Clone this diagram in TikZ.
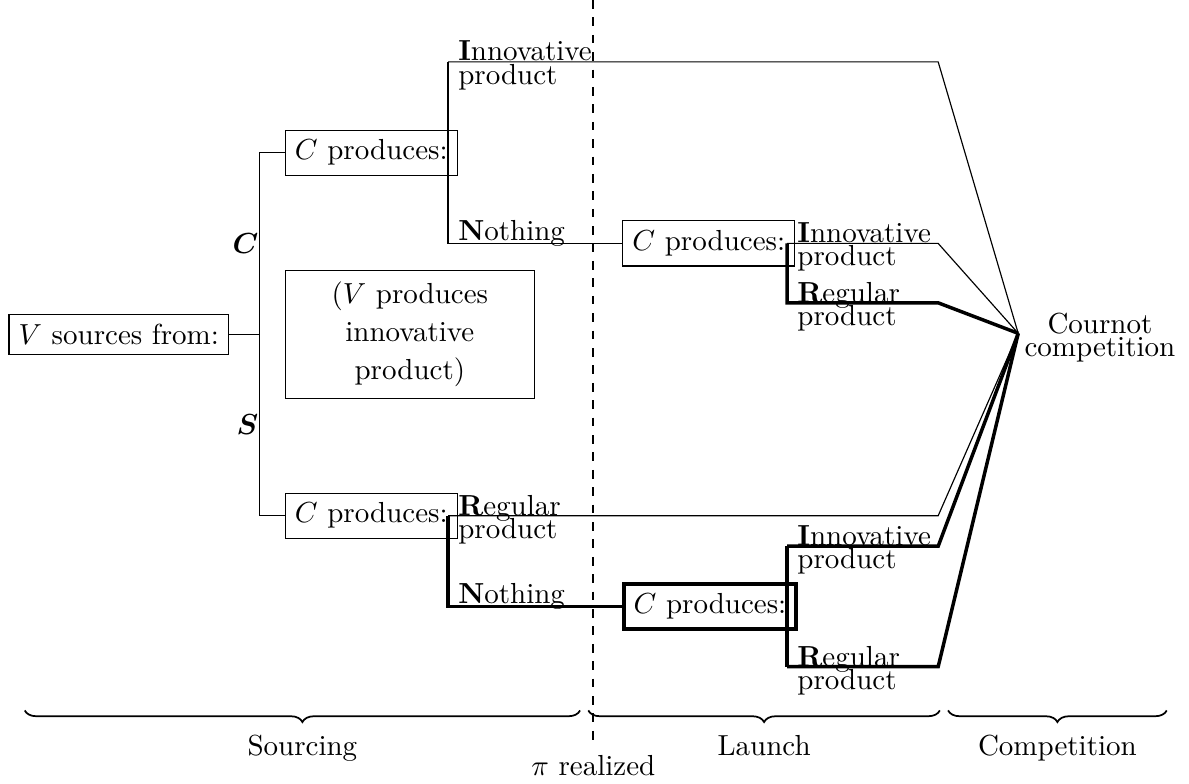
\documentclass[tikz,border=0pt]{standalone}
\usepackage{amsmath}
\usepackage{amssymb}
\usepackage{tikz}
\usetikzlibrary{calc}
\usetikzlibrary{positioning}
\usetikzlibrary{decorations.pathreplacing}

\begin{document}
\begin{tikzpicture}[box/.style={rectangle, draw=black},
                    lbl/.style={anchor=north west, align=left, yshift=10.7pt},
                    chosen/.style={very thick},
                    phase/.style={decorate, decoration={brace, mirror, amplitude=4pt}, semithick}]
            \useasboundingbox (0, 0) rectangle (14.41, -9.50);
            % sourcing stage
            \node[box] (V) at (1.44, -4.05) {$V$ sources from:};
            \coordinate (J) at (3.15, -4.05);
            \node[box, anchor=west] (C1) at (3.45, -1.85) {$C$ produces:};
            \node[box, anchor=west, align=center, minimum width=3.02cm, minimum height=1.55cm] (Vp) at (3.45, -4.05) {($V$ produces\\[1.2pt]innovative\\[1.2pt]product)};
            \node[box, anchor=west] (C2) at (3.45, -6.25) {$C$ produces:};
            \draw (V.east) -- (J);
            \draw (C1.west) -| (J) |- (C2.west);
            \path (J) -- (J |- C1) node[midway, left, xshift=3pt] {$\boldsymbol{C}$};
            \path (J) -- (J |- C2) node[midway, left, xshift=3pt] {$\boldsymbol{S}$};

            % launch stage
            \node[box, anchor=west] (C3) at (7.54, -2.95) {$C$ produces:};
            \node[box, anchor=west, chosen] (C4) at (7.54, -7.35) {$C$ produces:};
            \coordinate (cournot) at (12.34, -4.04);
            \coordinate (E) at (11.37, 0);
            \node[anchor=north west, align=center, inner sep=2pt, yshift=9.1pt] (comp) at (cournot) {Cournot\\[-4pt]competition};

            \coordinate (I1) at (5.43, -0.75);
            \coordinate (N1) at (5.43, -2.95);
            \coordinate (R2) at (5.43, -6.25);
            \coordinate (N2) at (5.43, -7.35);
            \coordinate (I3) at (9.54, -2.95);
            \coordinate (R3) at (9.54, -3.67);
            \coordinate (I4) at (9.54, -6.62);
            \coordinate (R4) at (9.54, -8.08);

            \draw (I1) -- (N1) -- (C3.west);
            \draw (I1) -- (I1 -| E) -- (cournot);
            \draw (R2) -- (R2 -| E) -- (cournot);
            \draw[chosen] (R2) -- (N2) -- (C4.west);
            \draw (I3) -- (I3 -| E) -- (cournot);
            \draw[chosen] (I3) -- (R3) -- (R3 -| E) -- (cournot);
            \draw[chosen] (I4) -- (R4);
            \draw[chosen] (I4) -- (I4 -| E) -- (cournot);
            \draw[chosen] (R4) -- (R4 -| E) -- (cournot);

            \node[lbl] at (I1) {\textbf{I}nnovative\\[-4pt]product};
            \node[anchor=base west, yshift=1pt] at (N1) {\textbf{N}othing};
            \node[lbl] at (R2) {\textbf{R}egular\\[-4pt]product};
            \node[anchor=base west, yshift=1pt] at (N2) {\textbf{N}othing};
            \node[lbl] at (I3) {\textbf{I}nnovative\\[-4pt]product};
            \node[lbl] at (R3) {\textbf{R}egular\\[-4pt]product};
            \node[lbl] at (I4) {\textbf{I}nnovative\\[-4pt]product};
            \node[lbl] at (R4) {\textbf{R}egular\\[-4pt]product};

            % timeline
            \coordinate (pitop) at (7.19, 0);
            \coordinate (pibot) at (7.19, -9.03);
            \draw[dashed, semithick] (pitop) -- (pibot) node[below] {$\pi$ realized};
            \draw[phase] (0.30, -8.61) -- (7.03, -8.61) node[midway, below=5pt] {Sourcing};
            \draw[phase] (7.13, -8.61) -- (11.39, -8.61) node[midway, below=5pt] {Launch};
            \draw[phase] (11.49, -8.61) -- (14.14, -8.61) node[midway, below=5pt] {Competition};
        \end{tikzpicture}
\end{document}
